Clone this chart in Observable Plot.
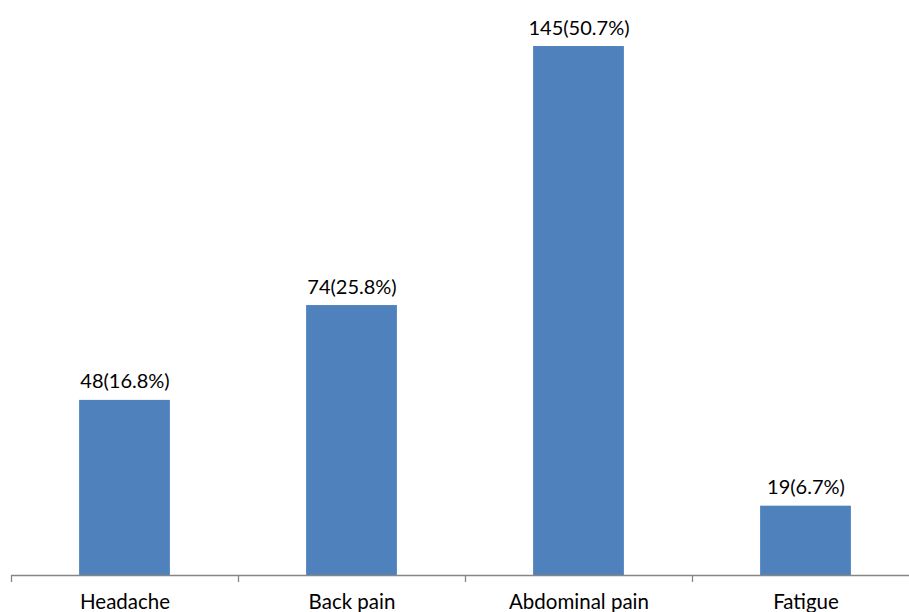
<!DOCTYPE html>
<html>
<head>
<meta charset="utf-8">
<script src="https://cdn.jsdelivr.net/npm/d3@7"></script>
<script src="https://cdn.jsdelivr.net/npm/@observablehq/plot@0.6"></script>
<style>
  html, body { margin: 0; padding: 0; background: #fff; }
</style>
</head>
<body>
<div id="chart"></div>
<script>
const categories = ["Headache", "Back pain", "Abdominal pain", "Fatigue"];
const counts = [48, 74, 145, 19];
const percents = [16.8, 25.8, 50.7, 6.7];

const data = categories.map((c, i) => ({
  category: c,
  count: counts[i],
  label: `${counts[i]}(${percents[i]}%)`
}));

const chart = Plot.plot({
  width: 909,
  height: 612,
  marginTop: 27.8,
  marginBottom: 37,
  marginLeft: 11,
  marginRight: -10,
  style: { fontFamily: "Lato, 'Liberation Sans', sans-serif", fontSize: "20px", color: "#000", background: "#fff", overflow: "hidden" },
  x: { domain: categories, paddingInner: 0.6, paddingOuter: 0.3, align: 0.5, label: null, round: false },
  y: { domain: [0, 150], axis: null },
  marks: [
    Plot.barY(data, { x: "category", y: "count", fill: "#4F81BD" }),
    Plot.ruleY([0], { stroke: "#868686", strokeWidth: 1.3 }),
    Plot.axisX({ tickSize: 7, dx: -113.5, text: null, stroke: "#868686", strokeWidth: 1.3, strokeOpacity: 1 }),
    Plot.axisX({ tickSize: 0, tickPadding: 19, fontSize: 20.5, fill: "#000" }),
    Plot.text(data, { x: "category", y: "count", text: "label", lineAnchor: "bottom", dy: -12, fontSize: 20, fill: "#000" })
  ]
});
document.getElementById("chart").appendChild(chart);
</script>
</body>
</html>
